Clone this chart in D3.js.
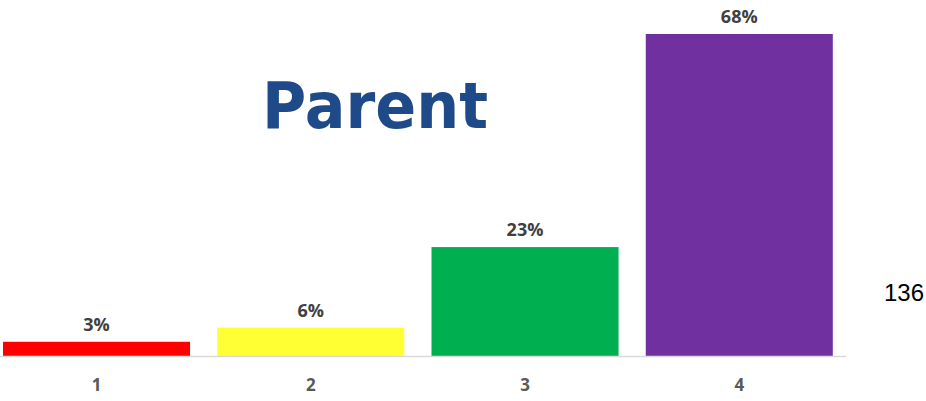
<!DOCTYPE html>
<html><head><meta charset="utf-8">
<script src="https://cdn.jsdelivr.net/npm/d3@7"></script>
<style>body{margin:0;background:#fff}svg{display:block}</style>
</head><body>
<script>
const categories = ["1","2","3","4"];
const values = [0.03, 0.06, 0.23, 0.68];
const labels = ["3%","6%","23%","68%"];
const colors = ["#FF0000","#FFFF33","#00B050","#7030A0"];
const title = "Parent";
const sideNote = "136";

const W = 926, H = 401;
const svg = d3.select("body").append("svg").attr("width", W).attr("height", H);

const x = d3.scaleBand().domain(categories).range([-10.6, 846.4]).paddingInner(0.127).paddingOuter(0.0635);
const y = d3.scaleLinear().domain([0, 0.68]).range([356, 34]);

svg.selectAll("rect.bar").data(values).join("rect").attr("class","bar")
  .attr("x", (d,i)=>x(categories[i])).attr("width", x.bandwidth())
  .attr("y", d=>y(d)).attr("height", d=>y(0)-y(d))
  .attr("fill", (d,i)=>colors[i]);

svg.append("line").attr("x1",0).attr("x2",846).attr("y1",y(0)+0.5).attr("y2",y(0)+0.5)
  .attr("stroke","#D9D9D9").attr("stroke-width",1.5);

const axis = d3.axisBottom(x).tickSize(0).tickPadding(23);
const g = svg.append("g").attr("transform",`translate(0,${y(0)})`).call(axis);
g.select(".domain").remove();
g.selectAll("text").attr("font-family","'Open Sans', sans-serif").attr("font-weight","bold")
  .attr("font-size",17).attr("fill","#595959");

svg.selectAll("text.lbl").data(values).join("text").attr("class","lbl")
  .attr("x",(d,i)=>x(categories[i])+x.bandwidth()/2).attr("y",d=>y(d)-11)
  .attr("text-anchor","middle").attr("font-family","'Open Sans', sans-serif")
  .attr("font-weight","bold").attr("font-size",18).attr("fill","#404040")
  .text((d,i)=>labels[i]);

svg.append("text").attr("x",262).attr("y",128).attr("font-family","'DejaVu Sans', sans-serif")
  .attr("font-weight","bold").attr("font-size",64).attr("fill","#1F4A8A")
  .attr("textLength",226).attr("lengthAdjust","spacingAndGlyphs").text(title);

svg.append("text").attr("x",924).attr("y",301).attr("text-anchor","end")
  .attr("font-family","'Liberation Sans', Arial, sans-serif").attr("font-size",24).attr("fill","#000")
  .text(sideNote);
</script>
</body></html>
